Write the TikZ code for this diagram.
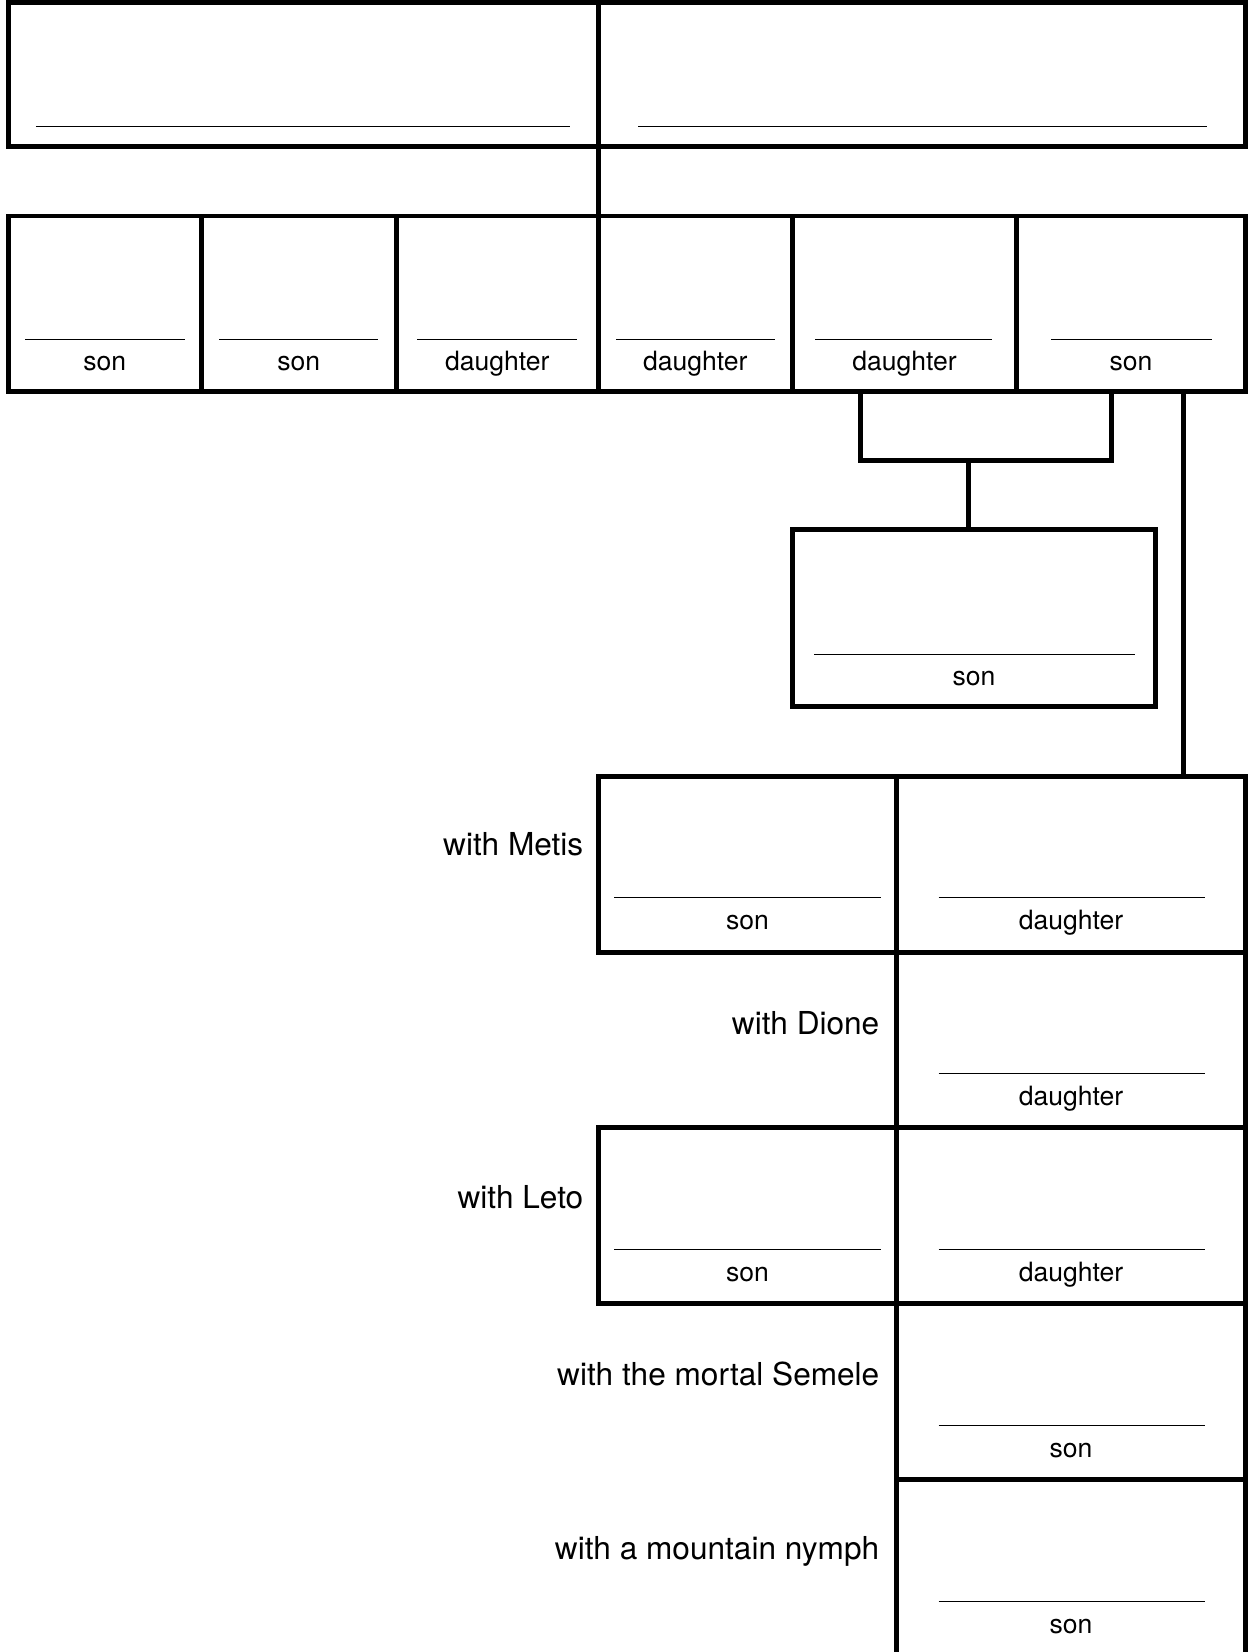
\documentclass[tikz,border=0pt]{standalone}
\usepackage{fontspec}
\setmainfont{TeX Gyre Heros}
\usetikzlibrary{fit,calc}
\begin{document}
\begin{tikzpicture}[x=0.5pt,y=-0.5pt,
  box/.style={draw, line width=2.35pt, inner sep=0pt, outer sep=0pt},
  conn/.style={draw, line width=2.35pt},
  blank/.style={draw, line width=0.7pt},
  small/.style={font=\fontsize{12.6}{15}\selectfont, anchor=base, inner sep=0pt},
  big/.style={font=\fontsize{15}{18}\selectfont, anchor=base east, inner sep=0pt}]
\useasboundingbox (0,0) rectangle (1187,1568);
\clip (0,0) rectangle (1187,1568);

% top couple
\node[box, fit={(8,2.4) (568,139)}] (T1) {};
\node[box, fit={(568,2.4) (1182,139)}] (T2) {};
\draw[blank] (34,120) -- (541,120);
\draw[blank] (606,120) -- (1146,120);

% children row
\node[box, fit={(8,205) (191,372)}] (C1) {};
\node[box, fit={(191,205) (376,372)}] (C2) {};
\node[box, fit={(376,205) (568,372)}] (C3) {};
\node[box, fit={(568,205) (752,372)}] (C4) {};
\node[box, fit={(752,205) (965,372)}] (C5) {};
\node[box, fit={(965,205) (1182,372)}] (C6) {};
\draw[blank] (24,322) -- (176,322);
\draw[blank] (208,322) -- (359,322);
\draw[blank] (396,322) -- (548,322);
\draw[blank] (585,322) -- (736,322);
\draw[blank] (774,322) -- (942,322);
\draw[blank] (998,322) -- (1150,322);
\node[small] (l1) at (99.5,352) {son};
\node[small] (l2) at (283.5,352) {son};
\node[small] (l3) at (472,352) {daughter};
\node[small] (l4) at (660,352) {daughter};
\node[small] (l5) at (858.5,352) {daughter};
\node[small] (l6) at (1073.5,352) {son};

\draw[conn] (T1.south east) -- (C4.north west);

% son of daughter and son
\node[box, fit={(752,503) (1097,671)}] (S) {};
\draw[blank] (773,621) -- (1077,621);
\node[small] (ls) at (924.5,651) {son};
\coordinate (bj) at (919,437);
\draw[conn] ($(C5.south west)+(65,0)$) |- (bj) -| ($(C6.south west)+(90,0)$);
\draw[conn] (bj) -- (bj |- S.north);

% grid of children
\node[box, fit={(568,737) (851,904)}] (G1L) {};
\node[box, fit={(851,737) (1182,904)}] (G1R) {};
\node[box, fit={(851,904) (1182,1070)}] (G2R) {};
\node[box, fit={(568,1070) (851,1237)}] (G3L) {};
\node[box, fit={(851,1070) (1182,1237)}] (G3R) {};
\node[box, fit={(851,1237) (1182,1404)}] (G4R) {};
\node[box, fit={(851,1404) (1182,1620)}] (G5R) {};

\coordinate (zs) at ($(C6.south west)+(158,0)$);
\draw[conn] (zs) -- (zs |- G1R.north);

\draw[blank] (583,852) -- (836,852);
\draw[blank] (891,852) -- (1144,852);
\draw[blank] (891,1019) -- (1144,1019);
\draw[blank] (583,1186) -- (836,1186);
\draw[blank] (891,1186) -- (1144,1186);
\draw[blank] (891,1353) -- (1144,1353);
\draw[blank] (891,1520) -- (1144,1520);

\node[small] (g1l) at (709.5,882) {son};
\node[small] (g1r) at (1016.5,882) {daughter};
\node[small] (g2r) at (1016.5,1049) {daughter};
\node[small] (g3l) at (709.5,1216) {son};
\node[small] (g3r) at (1016.5,1216) {daughter};
\node[small] (g4r) at (1016.5,1383) {son};
\node[small] (g5r) at (1016.5,1550) {son};

\node[big] (w1) at (554,812) {with Metis};
\node[big] (w2) at (835,982) {with Dione};
\node[big] (w3) at (554,1147) {with Leto};
\node[big] (w4) at (835,1315) {with the mortal Semele};
\node[big] (w5) at (835,1480) {with a mountain nymph};
\end{tikzpicture}
\end{document}
